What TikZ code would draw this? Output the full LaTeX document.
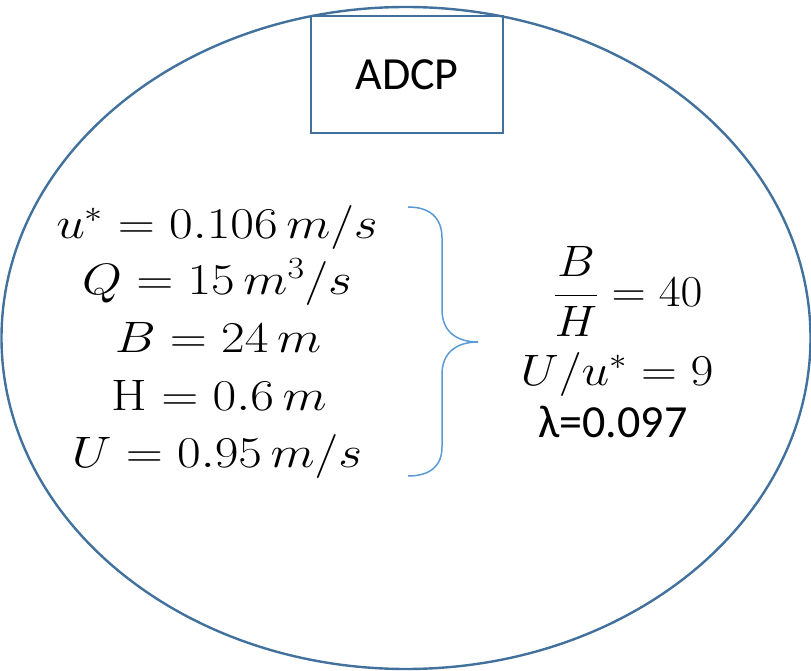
\documentclass[tikz,border=0pt]{standalone}
\usepackage{fix-cm}
\usepackage{amsmath}
\usepackage{graphicx}
\usepackage{fontspec}
\newfontfamily\calibri{Carlito}
\definecolor{rim}{HTML}{41719C}
\definecolor{bracecol}{HTML}{5B9BD5}
\newcommand{\wide}[2][1.17]{\scalebox{#1}[1]{$#2$}}

\begin{document}
\begin{tikzpicture}[x=1pt,y=-1pt,
  eq/.style={anchor=base,inner sep=0pt,font=\fontsize{44}{52}\selectfont}]
  \useasboundingbox (0,0) rectangle (811,671);
  \draw[rim,line width=2.4pt] (406,338) ellipse [x radius=404.5,y radius=331];
  \node[draw=rim,line width=2.4pt,minimum width=192pt,minimum height=117pt,
    font=\calibri\fontsize{46}{54}\selectfont] (adcp) at (407,74.5) {ADCP};
  % measured values
  \node[eq] (ustar) at (217,238) {\wide{u^{*}=0.106\,m/s}};
  \node[eq] (flow)  at (217,294) {\wide{Q=15\,m^{3}/s}};
  \node[eq] (width) at (218,352) {\wide{B=24\,m}};
  \node[eq] (depth) at (219,410) {\wide{\mathrm{H}=0.6\,m}};
  \node[eq] (vel)   at (217,467) {\wide{U=0.95\,m/s}};
  \draw[bracecol,line width=1.5pt] (408,207) .. controls (430,207) and (442,218) .. (442,238)
    -- (442,310) .. controls (442,330) and (455,342) .. (478,342)
    .. controls (455,342) and (442,354) .. (442,374)
    -- (442,447) .. controls (442,466) and (430,476) .. (408,476);
  % derived values
  \node[eq] (ratio)  at (628,306) {\wide[1.08]{\displaystyle\frac{B}{H}=40}};
  \node[eq] (relvel) at (617,385) {\wide[1.13]{U/u^{*}=9}};
  \node[eq,font=\calibri\fontsize{46}{54}\selectfont] (lambda) at (613,437) {λ=0.097};
\end{tikzpicture}
\end{document}
